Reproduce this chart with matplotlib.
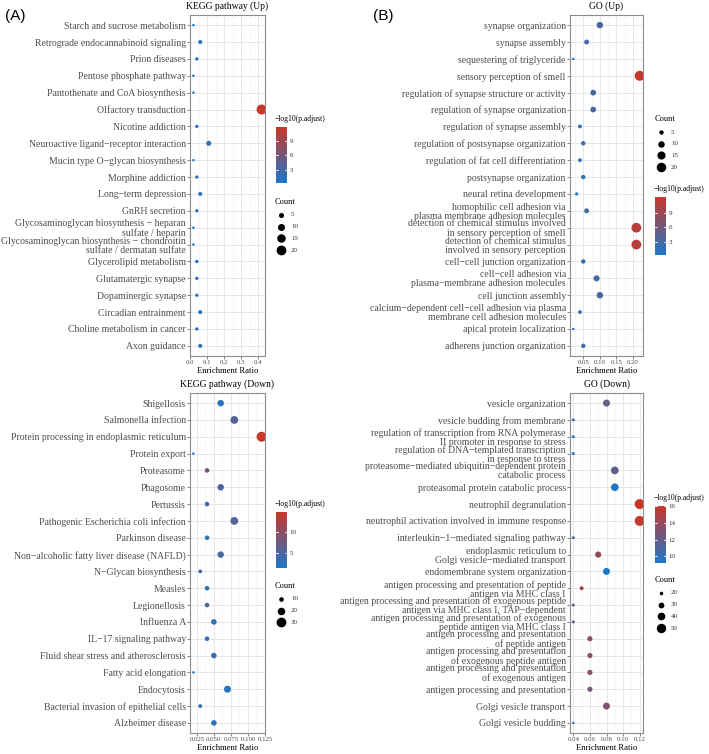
import numpy as np
import matplotlib
matplotlib.use("Agg")
import matplotlib.pyplot as plt
from matplotlib.colors import LinearSegmentedColormap
from matplotlib.ticker import AutoMinorLocator

W, H, DPI = 709, 754, 100
SERIF = ["Liberation Serif", "DejaVu Serif"]
plt.rcParams["font.family"] = SERIF

# ---- KEGG pathway (Up) ----
kegg_up_terms = [
    "Starch and sucrose metabolism",
    "Retrograde endocannabinoid signaling",
    "Prion diseases",
    "Pentose phosphate pathway",
    "Pantothenate and CoA biosynthesis",
    "Olfactory transduction",
    "Nicotine addiction",
    "Neuroactive ligand\u2212receptor interaction",
    "Mucin type O\u2212glycan biosynthesis",
    "Morphine addiction",
    "Long\u2212term depression",
    "GnRH secretion",
    "Glycosaminoglycan biosynthesis \u2212 heparan\nsulfate / heparin",
    "Glycosaminoglycan biosynthesis \u2212 chondroitin\nsulfate / dermatan sulfate",
    "Glycerolipid metabolism",
    "Glutamatergic synapse",
    "Dopaminergic synapse",
    "Circadian entrainment",
    "Choline metabolism in cancer",
    "Axon guidance",
]
kegg_up_ratio = [0.02, 0.06, 0.04, 0.02, 0.02, 0.42, 0.04, 0.11, 0.02, 0.04,
                 0.06, 0.04, 0.02, 0.02, 0.04, 0.04, 0.04, 0.06, 0.04, 0.06]
kegg_up_count = [1, 3, 2, 1, 1, 21, 2, 5, 1, 2, 3, 2, 1, 1, 2, 2, 2, 3, 2, 3]
kegg_up_padj = [0.4, 1.0, 0.8, 0.4, 0.4, 11.8, 0.8, 2.0, 0.4, 0.8,
                1.0, 0.8, 0.3, 0.3, 0.8, 0.8, 0.8, 1.0, 0.8, 1.0]

# ---- KEGG pathway (Down) ----
kegg_down_terms = [
    "Shigellosis",
    "Salmonella infection",
    "Protein processing in endoplasmic reticulum",
    "Protein export",
    "Proteasome",
    "Phagosome",
    "Pertussis",
    "Pathogenic Escherichia coli infection",
    "Parkinson disease",
    "Non\u2212alcoholic fatty liver disease (NAFLD)",
    "N\u2212Glycan biosynthesis",
    "Measles",
    "Legionellosis",
    "Influenza A",
    "IL\u221217 signaling pathway",
    "Fluid shear stress and atherosclerosis",
    "Fatty acid elongation",
    "Endocytosis",
    "Bacterial invasion of epithelial cells",
    "Alzheimer disease",
]
kegg_down_ratio = [0.06, 0.08, 0.12, 0.02, 0.04, 0.06, 0.04, 0.08, 0.04, 0.06,
                   0.03, 0.04, 0.04, 0.05, 0.04, 0.05, 0.02, 0.07, 0.03, 0.05]
kegg_down_count = [16, 21, 31, 5, 10, 16, 10, 21, 10, 16,
                   8, 10, 10, 13, 10, 13, 5, 18, 8, 13]
kegg_down_padj = [2.5, 5.5, 14.8, 1.4, 8.5, 5.0, 4.0, 5.5, 2.2, 4.5,
                  3.5, 2.8, 5.0, 2.2, 3.0, 3.0, 1.5, 2.0, 3.2, 2.5]

# ---- GO (Up) ----
go_up_terms = [
    "synapse organization",
    "synapse assembly",
    "sequestering of triglyceride",
    "sensory perception of smell",
    "regulation of synapse structure or activity",
    "regulation of synapse organization",
    "regulation of synapse assembly",
    "regulation of postsynapse organization",
    "regulation of fat cell differentiation",
    "postsynapse organization",
    "neural retina development",
    "homophilic cell adhesion via\nplasma membrane adhesion molecules",
    "detection of chemical stimulus involved\nin sensory perception of smell",
    "detection of chemical stimulus\ninvolved in sensory perception",
    "cell\u2212cell junction organization",
    "cell\u2212cell adhesion via\nplasma\u2212membrane adhesion molecules",
    "cell junction assembly",
    "calcium\u2212dependent cell\u2212cell adhesion via plasma\nmembrane cell adhesion molecules",
    "apical protein localization",
    "adherens junction organization",
]
go_up_ratio = [0.10, 0.06, 0.02, 0.22, 0.08, 0.08, 0.04, 0.05, 0.04, 0.05,
               0.03, 0.06, 0.21, 0.21, 0.05, 0.09, 0.10, 0.04, 0.02, 0.05]
go_up_count = [10, 6, 2, 22, 8, 8, 4, 5, 4, 5, 3, 6, 21, 21, 5, 9, 10, 4, 2, 5]
go_up_padj = [3.5, 3.0, 0.3, 12.2, 3.3, 3.3, 1.5, 2.5, 1.2, 1.8,
              1.0, 2.8, 11.0, 11.0, 0.9, 3.0, 3.2, 2.5, 0.7, 2.8]

# ---- GO (Down) ----
go_down_terms = [
    "vesicle organization",
    "vesicle budding from membrane",
    "regulation of transcription from RNA polymerase\nII promoter in response to stress",
    "regulation of DNA\u2212templated transcription\nin response to stress",
    "proteasome\u2212mediated ubiquitin\u2212dependent protein\ncatabolic process",
    "proteasomal protein catabolic process",
    "neutrophil degranulation",
    "neutrophil activation involved in immune response",
    "interleukin\u22121\u2212mediated signaling pathway",
    "endoplasmic reticulum to\nGolgi vesicle\u2212mediated transport",
    "endomembrane system organization",
    "antigen processing and presentation of peptide\nantigen via MHC class I",
    "antigen processing and presentation of exogenous peptide\nantigen via MHC class I, TAP\u2212dependent",
    "antigen processing and presentation of exogenous\npeptide antigen via MHC class I",
    "antigen processing and presentation\nof peptide antigen",
    "antigen processing and presentation\nof exogenous peptide antigen",
    "antigen processing and presentation\nof exogenous antigen",
    "antigen processing and presentation",
    "Golgi vesicle transport",
    "Golgi vesicle budding",
]
go_down_ratio = [0.08, 0.04, 0.04, 0.04, 0.09, 0.09, 0.12, 0.12, 0.04, 0.07,
                 0.08, 0.05, 0.04, 0.04, 0.06, 0.06, 0.06, 0.06, 0.08, 0.04]
go_down_count = [36, 18, 18, 18, 40, 40, 54, 54, 18, 32,
                 36, 22, 18, 18, 27, 27, 27, 27, 36, 16]
go_down_padj = [12.0, 10.8, 9.6, 9.4, 11.8, 9.3, 16.0, 15.8, 11.0, 14.0,
                9.2, 14.5, 12.3, 12.3, 13.5, 13.5, 13.5, 12.5, 13.0, 9.3]

cmap = LinearSegmentedColormap.from_list("padj", ["#1f78c8", "#c8382a"])

fig = plt.figure(figsize=(W / DPI, H / DPI), dpi=DPI)
overlay = fig.add_axes([0, 0, 1, 1], zorder=5)
overlay.set_xlim(0, W)
overlay.set_ylim(H, 0)
overlay.axis("off")


def px_axes(x0, y0, x1, y1):
    return fig.add_axes([x0 / W, 1 - y1 / H, (x1 - x0) / W, (y1 - y0) / H])


def dot_area(counts, cmin, cmax, dmin=2.5, dmax=10.0):
    counts = np.asarray(counts, dtype=float)
    frac = (np.sqrt(counts) - np.sqrt(cmin)) / (np.sqrt(cmax) - np.sqrt(cmin))
    d = dmin + frac * (dmax - dmin)
    return (d * 72 / DPI) ** 2


def dotplot(box, terms, ratio, count, padj, title, xticks, xticklabels,
            cbar_box, cbar_ticks, size_breaks, size_first):
    ax = px_axes(*box)
    n = len(terms)
    y = np.arange(n)[::-1]
    cmin, cmax = min(count), max(count)
    vmin, vmax = min(padj), max(padj)
    ax.scatter(ratio, y, s=dot_area(count, cmin, cmax), c=padj, cmap=cmap,
               vmin=vmin, vmax=vmax, linewidths=0, zorder=3)

    lo, hi = min(ratio), max(ratio)
    pad = 0.05 * (hi - lo)
    ax.set_xlim(lo - pad, hi + pad)
    ax.set_ylim(-0.6, n - 0.4)
    ax.set_yticks(y)
    ax.set_yticklabels(terms, fontsize=7.0, color="#4d4d4d", linespacing=1.0)
    ax.set_xticks(xticks)
    ax.set_xticklabels(xticklabels, fontsize=4.9, color="#4d4d4d")
    ax.xaxis.set_minor_locator(AutoMinorLocator(2))
    ax.tick_params(axis="both", which="major", length=2, width=0.5,
                   color="#555555", pad=1)
    ax.tick_params(axis="x", which="minor", length=0)
    ax.grid(True, which="major", color="#e6e6e6", lw=0.7, zorder=0)
    ax.grid(True, which="minor", axis="x", color="#f1f1f1", lw=0.4, zorder=0)
    ax.set_axisbelow(True)
    for sp in ax.spines.values():
        sp.set_color("#8c8c8c")
        sp.set_linewidth(0.8)
    ax.set_xlabel("Enrichment Ratio", fontsize=6.2, labelpad=1.5)
    ax.annotate(title, (0.5, 1), xycoords="axes fraction", xytext=(0, 6.5),
                textcoords="offset points", ha="center", va="center",
                fontsize=6.9, color="black")

    # colour bar
    cx0, cy0, cx1, cy1 = cbar_box
    cax = px_axes(cx0, cy0, cx1, cy1)
    grad = np.linspace(vmin, vmax, 256).reshape(-1, 1)
    cax.imshow(grad, aspect="auto", cmap=cmap, origin="lower",
               extent=(0, 1, vmin, vmax), vmin=vmin, vmax=vmax)
    cax.set_xlim(0, 1)
    cax.set_ylim(vmin, vmax)
    for t in cbar_ticks:
        cax.plot([0, 0.2], [t, t], color="white", lw=0.6)
        cax.plot([0.8, 1], [t, t], color="white", lw=0.6)
    cax.set_xticks([])
    cax.yaxis.tick_right()
    cax.set_yticks(cbar_ticks)
    cax.set_yticklabels([str(t) for t in cbar_ticks], fontsize=5,
                        color="#333333")
    cax.tick_params(axis="y", length=0, pad=2)
    for sp in cax.spines.values():
        sp.set_visible(False)
    overlay.text(cx0 - 1, cy0 - 8, "\u2212log10(p.adjust)", fontsize=5.5,
                 ha="left", va="center")

    # size legend
    sx, sy = size_first
    overlay.text(sx, sy - 13, "Count", fontsize=6, ha="left", va="center")
    step = 11.7
    for i, b in enumerate(size_breaks):
        yy = sy + i * step
        overlay.scatter([sx + 6], [yy], s=dot_area([b], cmin, cmax),
                        color="black", linewidths=0)
        overlay.text(sx + 16, yy, str(b), fontsize=5, ha="left",
                     va="center", color="#333333")
    return ax


dotplot((190, 15, 265, 356), kegg_up_terms, kegg_up_ratio, kegg_up_count,
        kegg_up_padj, "KEGG pathway (Up)",
        [0.0, 0.1, 0.2, 0.3, 0.4], ["0.0", "0.1", "0.2", "0.3", "0.4"],
        (276, 127, 287, 183), [3, 6, 9], [5, 10, 15, 20], (275, 215))

dotplot((190, 393, 265, 733), kegg_down_terms, kegg_down_ratio,
        kegg_down_count, kegg_down_padj, "KEGG pathway (Down)",
        [0.025, 0.05, 0.075, 0.1, 0.125],
        ["0.025", "0.050", "0.075", "0.100", "0.125"],
        (276, 512, 287, 568), [5, 10], [10, 20, 30], (275, 599))

dotplot((570, 393 - 378, 643, 356), go_up_terms, go_up_ratio, go_up_count,
        go_up_padj, "GO (Up)",
        [0.05, 0.10, 0.15, 0.20], ["0.05", "0.10", "0.15", "0.20"],
        (655, 197, 666, 255), [3, 6, 9], [5, 10, 15, 20], (655, 132))

dotplot((570, 393, 643, 733), go_down_terms, go_down_ratio, go_down_count,
        go_down_padj, "GO (Down)",
        [0.04, 0.06, 0.08, 0.10, 0.12],
        ["0.04", "0.06", "0.08", "0.10", "0.12"],
        (655, 506, 666, 563), [10, 12, 14, 16], [20, 30, 40, 50], (655, 593))

fig.text(15 / W, 1 - 16 / H, "(A)", fontsize=11, ha="center", va="center",
         family=["Liberation Sans", "DejaVu Sans"])
fig.text(383 / W, 1 - 16 / H, "(B)", fontsize=11, ha="center", va="center",
         family=["Liberation Sans", "DejaVu Sans"])

fig.savefig("out.png", dpi=DPI)
